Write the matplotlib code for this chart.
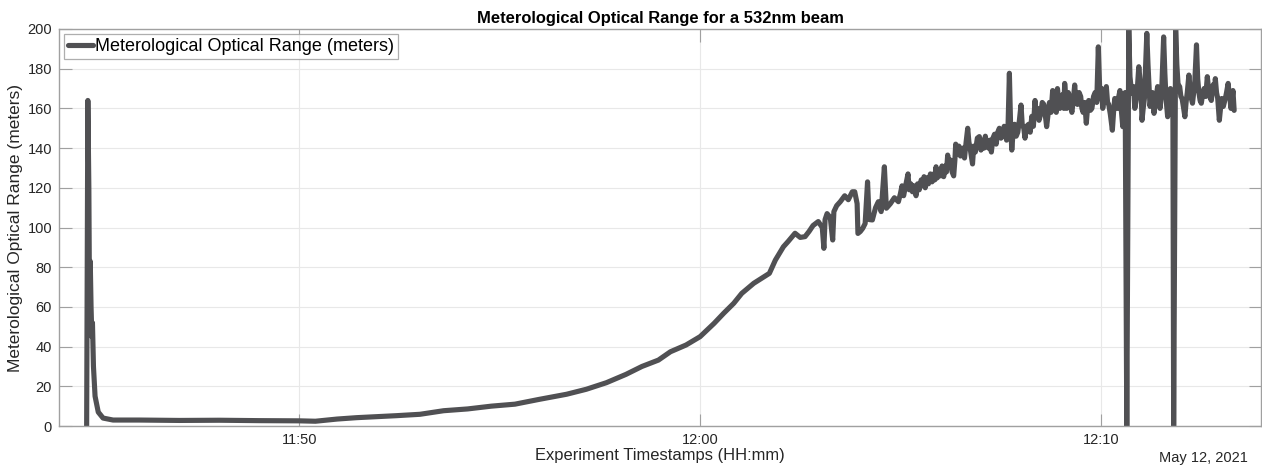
import matplotlib
matplotlib.use("Agg")
import matplotlib.pyplot as plt
import matplotlib.dates as mdates
import numpy as np
import pandas as pd

# ---------------- data ----------------
base_time = "2021-05-12 11:44:00"   # elapsed minutes are counted from here

# initial spike and decay
spike_min = [0.69, 0.72, 0.745, 0.76, 0.78, 0.80, 0.82, 0.835, 0.86, 0.90, 0.98, 1.1, 1.35]
spike_val = [0, 164, 120, 67, 83, 60, 45, 52, 30, 15, 7, 4, 3]

# flat period and smooth rise
rise_min = [2.0, 3.0, 4.0, 5.0, 6.0, 6.4,
            6.94, 7.43, 8.42, 9.01, 9.6, 10.2, 10.79, 11.38, 11.98, 12.67,
            13.16, 13.66, 14.15, 14.55, 14.96, 15.26, 15.65, 16.0, 16.35, 16.59,
            16.84, 17.04, 17.34, 17.73, 17.88, 18.08, 18.2, 18.37, 18.5, 18.62,
            18.72, 18.82, 18.95, 19.05, 19.09, 19.12, 19.17, 19.25, 19.31, 19.34,
            19.41, 19.5, 19.61, 19.7, 19.8, 19.86, 19.92, 19.94, 20.0, 20.06,
            20.12, 20.18, 20.22, 20.3, 20.38, 20.45, 20.52, 20.6, 20.65, 20.75,
            20.85, 20.95]
rise_val = [3, 2.8, 2.9, 2.7, 2.6, 2.4,
            3.5, 4.2, 5.2, 5.9, 7.7, 8.6, 10, 11, 13.4, 16,
            18.5, 21.8, 26, 30, 33.2, 37.4, 40.8, 45, 51.7, 56.8,
            61.8, 66.8, 71.9, 76.9, 83.6, 90.3, 93, 97.1, 95, 95.4,
            98, 101, 103, 100, 89.5, 104, 107, 105, 93.7, 108,
            111, 113, 116, 114, 118, 118, 112, 97, 98, 99.6,
            102, 123, 104, 103.8, 110, 113, 108, 130.6, 109.7, 112,
            115, 113]

# noisy plateau
noisy_min = [21.00, 21.04, 21.08, 21.12, 21.16, 21.19, 21.22, 21.26, 21.30, 21.34,
             21.39, 21.43, 21.47, 21.52, 21.56, 21.59, 21.62, 21.66, 21.70, 21.75,
             21.79, 21.83, 21.86, 21.89, 21.92, 21.96, 22.00, 22.04, 22.08, 22.12,
             22.15, 22.18, 22.21, 22.25, 22.29, 22.33, 22.36, 22.38, 22.42, 22.46,
             22.50, 22.55, 22.60, 22.64, 22.68, 22.71, 22.74, 22.77, 22.80, 22.83,
             22.87, 22.92, 22.97, 23.01, 23.05, 23.09, 23.12, 23.16, 23.20, 23.24,
             23.27, 23.31, 23.35, 23.39, 23.43, 23.47, 23.51, 23.55, 23.59, 23.62,
             23.65, 23.68, 23.72, 23.75, 23.78, 23.82, 23.85, 23.89, 23.93, 23.97,
             24.01, 24.04, 24.08, 24.11, 24.15, 24.20, 24.24, 24.28, 24.32, 24.36,
             24.39, 24.42, 24.46, 24.50, 24.54, 24.58, 24.62, 24.65, 24.69, 24.72,
             24.76, 24.80, 24.83, 24.86, 24.89, 24.92, 24.95, 24.98, 25.02, 25.05,
             25.08, 25.10, 25.13, 25.15, 25.19, 25.22, 25.25, 25.28, 25.32, 25.35,
             25.38, 25.42, 25.46, 25.50, 25.53, 25.56, 25.60, 25.64, 25.67, 25.70,
             25.74, 25.78, 25.82, 25.86, 25.90, 25.94, 25.97, 25.99, 26.02, 26.05,
             26.09, 26.14, 26.17, 26.20, 26.24, 26.29, 26.32, 26.35, 26.39, 26.42,
             26.45, 26.48, 26.51, 26.55, 26.58, 26.61, 26.65, 26.70, 26.73, 26.76,
             26.78, 26.82, 26.85, 26.90, 26.95, 26.99, 27.01, 27.03, 27.06, 27.09,
             27.15, 27.18, 27.21, 27.23, 27.26, 27.29, 27.33, 27.37, 27.42, 27.45,
             27.48, 27.52, 27.57, 27.60, 27.63, 27.67, 27.71, 27.74, 27.78, 27.80,
             27.82, 27.87, 27.90, 27.93, 27.97, 28.00, 28.03, 28.07, 28.10, 28.13,
             28.16, 28.20, 28.23, 28.25, 28.29, 28.32, 28.34, 28.39, 28.42, 28.45,
             28.48, 28.51, 28.55, 28.58, 28.62, 28.66, 28.69, 28.72, 28.76, 28.79,
             28.81, 28.84, 28.86, 28.89, 28.92, 28.96, 28.99, 29.02, 29.06, 29.09,
             29.12, 29.14, 29.18, 29.20, 29.22, 29.25, 29.28, 29.30, 29.33]
noisy_val = [117, 121, 116, 120, 124, 127, 119, 122, 118, 121,
             116, 122, 119, 124, 121, 125.6, 120, 125, 122, 127,
             123, 127, 124, 130.6, 125, 129, 126, 131, 125.6, 131,
             128, 136.5, 131, 134, 128, 126, 134, 142, 137, 141,
             136, 140, 135, 143, 150, 143, 140, 136, 132, 141,
             138, 145, 145.8, 139, 144, 140, 146, 141, 140, 144,
             138, 145, 147, 142, 148, 150, 145, 146, 151, 150,
             144, 146, 177.7, 152, 139, 150, 152, 146, 148, 154,
             161.7, 152, 150, 145, 151, 152, 148, 156, 151, 164,
             157, 160, 154, 157, 163, 162, 156, 150.8, 158, 163,
             158, 169, 162, 163, 158, 170, 164, 160, 166, 167,
             160, 172.6, 165, 160, 168, 166, 161, 158, 165, 171.8,
             164, 162, 168, 166, 160, 158, 163, 152.5, 160, 164,
             159, 160, 166, 168, 163, 191, 172, 165, 170, 160,
             166, 171, 163, 162, 157, 149, 158, 165, 161, 160,
             166, 169, 160, 150.8, 160, 168, 0, 199.5, 176, 170,
             167.6, 171, 160, 166, 181, 172, 168, 154, 160, 165,
             197.8, 182, 170, 161, 166, 168, 157.5, 164, 171, 166,
             160, 168, 196, 178, 165, 155.8, 164, 170, 166, 168,
             0, 199.5, 182, 172, 171, 166, 165, 160, 155.8, 163,
             168, 176.8, 170, 166, 162.6, 168, 170, 192, 175, 168,
             164, 162.6, 168, 170, 166, 176, 170, 166, 164, 170,
             172, 168, 175, 168, 165, 154, 160, 165, 161, 163.4,
             166, 168, 172.6, 168, 166, 160, 165, 169, 159]

x_start = "2021-05-12 11:44:00"
x_end = "2021-05-12 12:14:00"
x_ticks = ["2021-05-12 11:50", "2021-05-12 12:00", "2021-05-12 12:10"]
y_ticks = [0, 20, 40, 60, 80, 100, 120, 140, 160, 180, 200]

title = "Meterological Optical Range for a 532nm beam"
series_label = "Meterological Optical Range (meters)"
x_label = "Experiment Timestamps (HH:mm)"
y_label = "Meterological Optical Range (meters)"
date_note = "May 12, 2021"

assert len(spike_min) == len(spike_val)
assert len(rise_min) == len(rise_val)
assert len(noisy_min) == len(noisy_val), (len(noisy_min), len(noisy_val))

elapsed_min = spike_min + rise_min + noisy_min
mor_m = spike_val + rise_val + noisy_val

# ---------------- plot ----------------
plt.rcParams['font.family'] = ['Liberation Sans', 'DejaVu Sans']
W, H = 1262, 467
fig = plt.figure(figsize=(W / 100, H / 100), dpi=100)
ax = fig.add_axes([59 / W, (H - 426) / H, (1261 - 59) / W, (426 - 29) / H])

times = pd.Timestamp(base_time) + pd.to_timedelta(np.array(elapsed_min), unit="m")
line_color = "#505053"
ax.plot(times, mor_m, color=line_color, lw=3.7, solid_joinstyle="round",
        solid_capstyle="round", label=series_label)

ax.set_xlim(pd.Timestamp(x_start), pd.Timestamp(x_end))
ax.set_ylim(y_ticks[0], y_ticks[-1])
ax.set_xticks([pd.Timestamp(t) for t in x_ticks])
ax.xaxis.set_major_formatter(mdates.DateFormatter("%H:%M"))
ax.set_yticks(y_ticks)

spine_c = "#a0a0a0"
for s in ax.spines.values():
    s.set_color(spine_c)
    s.set_linewidth(1.0)
ax.tick_params(axis="both", which="major", direction="in", length=9, width=0.8,
               color=spine_c, labelsize=10.5, labelcolor="#262626",
               top=True, right=True, pad=5)
ax.grid(True, color="#e8e8e8", lw=0.8)
ax.set_axisbelow(True)

ax.set_title(title, fontsize=11.9, fontweight="bold", pad=4)
ax.set_xlabel(x_label, fontsize=11.9, color="#262626", labelpad=1)
ax.set_ylabel(y_label, fontsize=12.5, color="#262626", labelpad=3)
fig.text(1248 / W, (H - 458) / H, date_note, ha="right", va="center",
         fontsize=10.5, color="#262626")

leg = ax.legend(loc="upper left", fontsize=13, frameon=True, fancybox=False,
                handlelength=1.4, handletextpad=0.12, borderpad=0.2,
                borderaxespad=0.3)
leg.get_frame().set_edgecolor("#9a9a9a")
leg.get_frame().set_linewidth(0.9)

fig.savefig("out.png", dpi=100)
